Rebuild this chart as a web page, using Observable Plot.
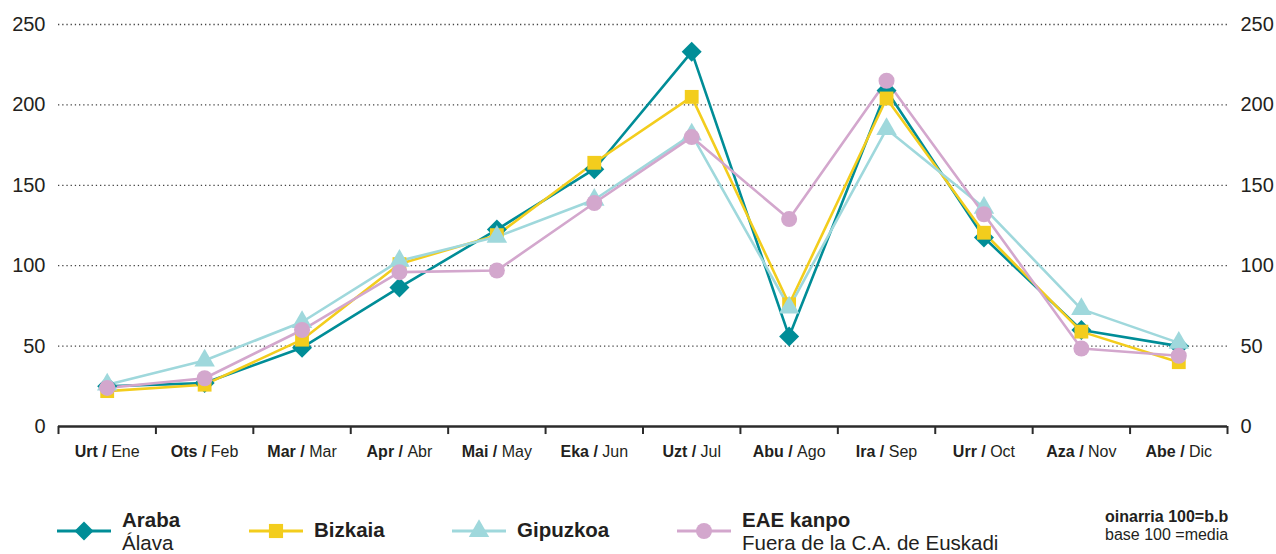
<!DOCTYPE html>
<html>
<head>
<meta charset="utf-8">
<script src="https://cdn.jsdelivr.net/npm/d3@7"></script>
<script src="https://cdn.jsdelivr.net/npm/@observablehq/plot@0.6"></script>
<style>
  html, body { margin: 0; padding: 0; background: #fff; }
  #wrap { position: relative; width: 1276px; height: 554px; overflow: hidden;
          font-family: "Liberation Sans", Arial, Helvetica, sans-serif; color: #231f20; }
  #chart { position: absolute; left: 0; top: 0; }
  .sw { position: absolute; }
  .t1 { position: absolute; font-size: 20.5px; font-weight: bold; white-space: nowrap; }
  .t2 { position: absolute; font-size: 20.5px; white-space: nowrap; }
  .n1 { position: absolute; font-size: 16px; font-weight: bold; white-space: nowrap; }
  .n2 { position: absolute; font-size: 16px; white-space: nowrap; }
</style>
</head>
<body>
<div id="wrap"><div id="chart"></div></div>
<script>
// ---- data ----
const monthsEu = ["Urt","Ots","Mar","Apr","Mai","Eka","Uzt","Abu","Ira","Urr","Aza","Abe"];
const monthsEs = ["Ene","Feb","Mar","Abr","May","Jun","Jul","Ago","Sep","Oct","Nov","Dic"];
const yTicks = [0, 50, 100, 150, 200, 250];

const seriesNames = ["Araba", "Bizkaia", "Gipuzkoa", "EAE kanpo"];
const seriesSub = ["Álava", "", "", "Fuera de la C.A. de Euskadi"];
const araba    = [25, 27, 49, 86.5, 122.5, 160, 233, 56, 209, 117.5, 60, 50];
const bizkaia  = [22, 26, 54, 101, 119, 164, 205, 76, 204, 120.5, 59, 40];
const gipuzkoa = [26, 41, 65, 103, 118, 141, 181.5, 74, 185, 136, 73, 52];
const eaeKanpo = [24, 30, 60, 96, 97, 139, 180, 129, 215, 132, 48.5, 44];
const seriesValues = [araba, bizkaia, gipuzkoa, eaeKanpo];

const colors = ["#008d97", "#f3cd1d", "#9fd8dc", "#d3a7cd"];
const symbols = ["diamond2", "square", "triangle", "circle"];
const noteLines = ["oinarria 100=b.b", "base 100 =media"];

// ---- table ----
const rows = [];
seriesNames.forEach((s, si) => {
  seriesValues[si].forEach((v, i) => rows.push({series: s, si, i, x: i + 0.5, v}));
});
const monthRows = monthsEu.map((m, i) => ({x: i + 0.5, label: m + " / " + monthsEs[i]}));

const font = '"Liberation Sans", Arial, Helvetica, sans-serif';

const marks = [
  Plot.ruleY(yTicks.filter(d => d > 0), {stroke: "#444", strokeWidth: 1.3, strokeDasharray: "1.3,2.9"}),
  Plot.ruleY([0], {stroke: "#2b2b2b", strokeWidth: 2.6}),
  Plot.ruleX(d3.range(13), {x: d => d, y1: 0, y2: -5, stroke: "#2b2b2b", strokeWidth: 2}),
  Plot.text(monthRows, {x: "x", y: 0, text: "label", dy: 25, fontSize: 16, fill: "#231f20"}),
  Plot.text(yTicks, {x: 0, y: d => d, text: d => String(d), dx: -13, textAnchor: "end", fontSize: 20, fill: "#231f20"}),
  Plot.text(yTicks, {x: 12, y: d => d, text: d => String(d), dx: 13, textAnchor: "start", fontSize: 20, fill: "#231f20"})
];
seriesNames.forEach((s, si) => {
  const d = rows.filter(r => r.si === si);
  marks.push(Plot.line(d, {x: "x", y: "v", stroke: colors[si], strokeWidth: 2.6}));
});
seriesNames.forEach((s, si) => {
  const d = rows.filter(r => r.si === si);
  const r = si === 0 ? 9 : si === 1 ? 7.8 : si === 2 ? 7.6 : 8;
  marks.push(Plot.dot(d, {x: "x", y: "v", symbol: () => symbols[si], fill: colors[si], stroke: "none", r}));
});

const chart = Plot.plot({
  width: 1276,
  height: 470,
  marginLeft: 58,
  marginRight: 49,
  marginTop: 24,
  marginBottom: 44,
  style: {fontFamily: font, background: "transparent", overflow: "visible"},
  x: {domain: [0, 12], axis: null},
  y: {domain: [0, 250], axis: null},
  symbol: {type: "identity"},
  marks
});
document.getElementById("chart").appendChild(chart);

// bold first part of month labels
chart.querySelectorAll("text").forEach(t => {
  const s = t.textContent;
  if (s.includes(" / ")) {
    const [a, b] = s.split(" / ");
    t.textContent = "";
    const ns = "http://www.w3.org/2000/svg";
    const s1 = document.createElementNS(ns, "tspan");
    s1.setAttribute("font-weight", "bold");
    s1.textContent = a + " / ";
    const s2 = document.createElementNS(ns, "tspan");
    s2.textContent = b;
    t.appendChild(s1); t.appendChild(s2);
  }
});

// ---- legend ----
const wrap = document.getElementById("wrap");
const legX = [57, 249, 452, 677];
const legY = 531;
const symSize = [230, 200, 180, 200];
const d3sym = [d3.symbolDiamond2, d3.symbolSquare, d3.symbolTriangle, d3.symbolCircle];
seriesNames.forEach((s, si) => {
  const x0 = legX[si];
  const svg = d3.create("svg").attr("class", "sw").attr("width", 56).attr("height", 24)
    .style("left", x0 + "px").style("top", (legY - 12) + "px");
  svg.append("line").attr("x1", 0).attr("x2", 54).attr("y1", 12).attr("y2", 12)
    .attr("stroke", colors[si]).attr("stroke-width", 3);
  svg.append("path").attr("transform", "translate(27,12)")
    .attr("d", d3.symbol(d3sym[si], symSize[si])()).attr("fill", colors[si]);
  wrap.appendChild(svg.node());
  const tx = x0 + 65;
  const t1 = document.createElement("div");
  t1.className = "t1";
  t1.textContent = s;
  t1.style.left = tx + "px";
  if (seriesSub[si]) {
    t1.style.top = (527 - 19) + "px";
    const t2 = document.createElement("div");
    t2.className = "t2";
    t2.textContent = seriesSub[si];
    t2.style.left = tx + "px";
    t2.style.top = (550 - 19) + "px";
    wrap.appendChild(t2);
  } else {
    t1.style.top = (537 - 19) + "px";
  }
  wrap.appendChild(t1);
});
const n1 = document.createElement("div");
n1.className = "n1"; n1.textContent = noteLines[0];
n1.style.left = "1105px"; n1.style.top = (523 - 15) + "px";
const n2 = document.createElement("div");
n2.className = "n2"; n2.textContent = noteLines[1];
n2.style.left = "1105px"; n2.style.top = (541 - 15) + "px";
wrap.appendChild(n1); wrap.appendChild(n2);
</script>
</body>
</html>
